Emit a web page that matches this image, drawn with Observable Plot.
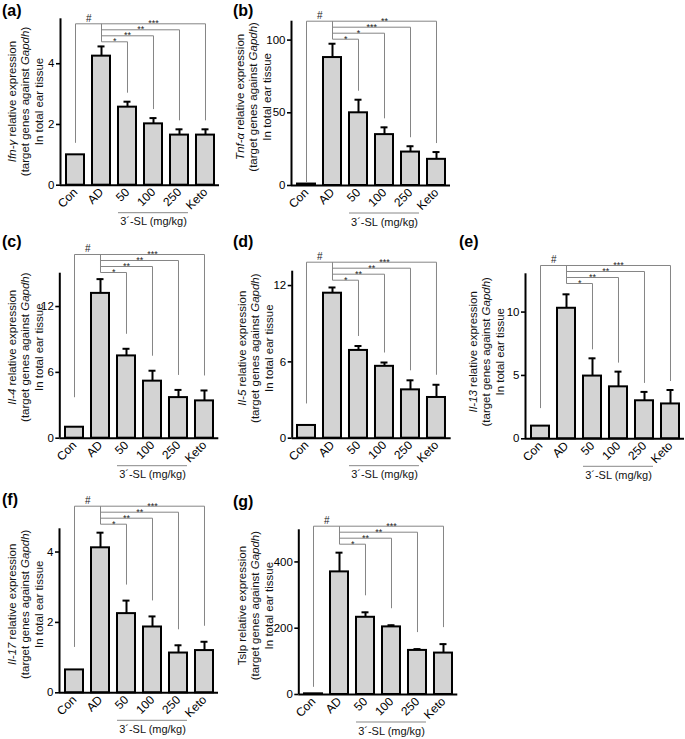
<!DOCTYPE html>
<html><head><meta charset="utf-8">
<script src="https://cdn.jsdelivr.net/npm/d3@7"></script>
<script src="https://cdn.jsdelivr.net/npm/@observablehq/plot@0.6"></script>
<style>
body{margin:0;background:#fff;font-family:"Liberation Sans",Arial,sans-serif;}
#fig{position:relative;width:685px;height:739px;overflow:hidden;background:#fff;}
.panel{position:absolute;}
.plabel{position:absolute;font-weight:bold;font-size:16px;line-height:1;font-family:"Liberation Sans",Arial,sans-serif;}
</style></head><body><div id="fig"></div>
<script>
// ---------- data ----------
const groups = ["Con", "AD", "50", "100", "250", "Keto"];
const doseGroups = ["50", "100", "250"];
const doseLabel = "3´-SL (mg/kg)";
const panelLetters = ["(a)", "(b)", "(c)", "(d)", "(e)", "(f)", "(g)"];
const geneNames = ["Ifn-γ", "Tnf-α", "Il-4", "Il-5", "Il-13", "Il-17", "Tslp"];
const refGene = "Gapdh";
const ifngMean = [1.0, 4.25, 2.57, 2.02, 1.65, 1.65];
const ifngSem  = [0, 0.32, 0.18, 0.19, 0.19, 0.19];
const ifngTicks = [0, 2, 4];
const ifngStars = ["*", "**", "**", "***"];
const tnfMean = [1.0, 88, 50, 35, 23, 18];
const tnfSem  = [0, 9.5, 9, 5, 4, 5];
const tnfTicks = [0, 50, 100];
const tnfStars = ["*", "*", "***", "**"];
const il4Mean = [1.0, 13.2, 7.5, 5.2, 3.7, 3.4];
const il4Sem  = [0, 1.3, 0.65, 0.95, 0.7, 0.95];
const il4Ticks = [0, 6, 12];
const il5Mean = [1.0, 11.4, 6.9, 5.65, 3.8, 3.2];
const il5Sem  = [0, 0.45, 0.35, 0.3, 0.75, 1.0];
const il5Ticks = [0, 6, 12];
const il13Mean = [1.0, 10.3, 4.95, 4.1, 3.0, 2.75];
const il13Sem  = [0, 1.1, 1.4, 1.2, 0.7, 1.1];
const il13Ticks = [0, 5, 10];
const il17Mean = [0.65, 4.12, 2.25, 1.87, 1.13, 1.2];
const il17Sem  = [0, 0.43, 0.37, 0.3, 0.22, 0.25];
const il17Ticks = [0, 2, 4];
const tslpMean = [2, 370, 233, 204, 133, 125];
const tslpSem  = [0, 58, 15, 5, 4, 27];
const tslpTicks = [0, 200, 400];
const stdStars = ["*", "**", "**", "***"];

// ---------- layout (pixels) ----------
const FONT = "'Liberation Sans', Arial, sans-serif";
const W = 159, PI = 0.32, PO = 0.16;
const STEP = W / (groups.length - PI + 2 * PO);
const S = 6; // spacing between bracket levels

const panels = [
  {k:0, mean: ifngMean, sem: ifngSem, ticks: ifngTicks, stars: ifngStars, ymax: 5.48,
   left: 0, top: 0, axisX: 60, topY: 18.3, zeroY: 184.7, T: 23.3, conGap: 12, tGap: 9, lx: 2, ly: 3, tc: 0, tx: -48},
  {k:1, mean: tnfMean, sem: tnfSem, ticks: tnfTicks, stars: tnfStars, ymax: 113,
   left: 230, top: 0, axisX: 291, topY: 20.7, zeroY: 185, T: 20.7, conGap: 2, tGap: 9, lx: 233, ly: 3, tc: -6, tx: -51},
  {k:2, mean: il4Mean, sem: il4Sem, ticks: il4Ticks, stars: stdStars, ymax: 15.04,
   left: 0, top: 240, axisX: 59.3, topY: 272.7, zeroY: 437.7, T: 254, conGap: 30, tGap: 15, lx: 2, ly: 234, tc: -8, tx: -47},
  {k:3, mean: il5Mean, sem: il5Sem, ticks: il5Ticks, stars: stdStars, ymax: 13.13,
   left: 230, top: 240, axisX: 291.7, topY: 270.7, zeroY: 437.7, T: 261.7, conGap: 22, tGap: 10, lx: 233, ly: 234, tc: -6, tx: -50},
  {k:4, mean: il13Mean, sem: il13Sem, ticks: il13Ticks, stars: stdStars, ymax: 13.02,
   left: 455, top: 240, axisX: 525, topY: 273.3, zeroY: 438.3, T: 265, conGap: 18, tGap: 9, lx: 459, ly: 234, tc: -4, tx: -52},
  {k:5, mean: il17Mean, sem: il17Sem, ticks: il17Ticks, stars: stdStars, ymax: 4.66,
   left: 0, top: 488, axisX: 59, topY: 528.3, zeroY: 692.3, T: 505.7, conGap: 23, tGap: 16, lx: 2, ly: 492, tc: -6, tx: -47},
  {k:6, mean: tslpMean, sem: tslpSem, ticks: tslpTicks, stars: stdStars, ymax: 497,
   left: 230, top: 488, axisX: 298.3, topY: 529.3, zeroY: 694, T: 525.7, conGap: 7, tGap: 17, lx: 233, ly: 494, tc: -6, tx: -56}
];

const fig = document.getElementById("fig");

function makePanel(p) {
  const rows = groups.map((g, i) => ({group: g, mean: p.mean[i], sem: p.sem[i]}));
  const errRows = rows.filter(d => d.sem > 0);
  const ml = p.axisX - p.left, mt = p.topY - p.top, mr = 10, mb = 55;
  const width = ml + W + mr;
  const height = p.zeroY - p.top + mb;
  const ppu = (p.zeroY - p.topY) / p.ymax;
  const val = py => (p.zeroY - py) / ppu;      // pixel row -> data value
  const up = (v, px) => v + px / ppu;          // data value raised by px
  const lv = j => val(p.T + (5 - j) * S);      // bracket level for group j
  const top = val(p.T);

  const segs = [];
  segs.push({x1: "Con", x2: "Con", y1: up(rows[0].mean + rows[0].sem, p.conGap), y2: top});
  segs.push({x1: "Con", x2: "Keto", y1: top, y2: top});
  segs.push({x1: "AD", x2: "AD", y1: top, y2: lv(2)});
  for (let j = 2; j <= 4; j++) segs.push({x1: "AD", x2: groups[j], y1: lv(j), y2: lv(j)});
  for (let j = 2; j <= 5; j++) segs.push({x1: groups[j], x2: groups[j], y1: lv(j), y2: up(rows[j].mean + rows[j].sem, p.tGap)});

  const starMarks = [];
  starMarks.push(Plot.text(["#"], {x: () => "Con", y: () => top, text: d => d, dx: STEP / 2, dy: -5.5, fontSize: 10, fill: "#222"}));
  for (let j = 2; j <= 5; j++) {
    const c = (1 + j) / 2;
    const half = c % 1 !== 0;
    starMarks.push(Plot.text([p.stars[j - 2]], {
      x: () => groups[Math.floor(c)], y: () => lv(j), text: d => d,
      dx: half ? STEP / 2 : 0, dy: -0.5, fontSize: 9, fill: "#222"
    }));
  }

  const svg = Plot.plot({
    width, height,
    marginLeft: ml, marginTop: mt, marginRight: mr, marginBottom: mb,
    style: {fontFamily: FONT, fontSize: "12px", background: "transparent", overflow: "visible", color: "#000"},
    x: {domain: groups, paddingInner: PI, paddingOuter: PO, tickSize: 0, tickRotate: -45, tickPadding: 5, label: null},
    y: {domain: [0, p.ymax], ticks: p.ticks, tickFormat: d => String(d), tickSize: 4, tickPadding: 2, label: null},
    marks: [
      Plot.link(segs, {x1: "x1", x2: "x2", y1: "y1", y2: "y2", stroke: "#858585", strokeWidth: 1}),
      ...starMarks,
      Plot.barY(rows, {x: "group", y: "mean", fill: "#d3d3d3", stroke: "#000", strokeWidth: 2}),
      Plot.ruleX(errRows, {x: "group", y1: "mean", y2: d => d.mean + d.sem, stroke: "#000", strokeWidth: 2}),
      Plot.tickY(errRows, {x: "group", y: d => d.mean + d.sem, stroke: "#000", strokeWidth: 2, inset: 5.5}),
      Plot.ruleY([0], {stroke: "#000", strokeWidth: 2}),
      Plot.ruleX([0], {x: null, y1: () => 0, y2: () => p.ymax, dx: -W / 2, stroke: "#000", strokeWidth: 2}),
      Plot.ruleY([0], {x1: () => doseGroups[0], x2: () => doseGroups[doseGroups.length - 1], dy: 27.5, stroke: "#888", strokeWidth: 1}),
      Plot.text([doseLabel], {x: () => doseGroups[1], y: () => 0, text: d => d, dy: 36.5, fontSize: 11, fill: "#111"})
    ]
  });

  const sel = d3.select(svg);
  sel.selectAll('[aria-label^="y-axis"] path, [aria-label^="y-axis"] line').attr("stroke-width", 1.6);
  sel.selectAll('[aria-label^="y-axis"] text').attr("font-size", 11.5);

  // Y-axis title (three lines, italic gene names)
  const cy = mt + (p.zeroY - p.topY) / 2 + p.tc;
  const titleLines = [
    [[geneNames[p.k], p.k !== 6], [" relative expression", false]],
    [["(target genes against ", false], [refGene, true], [")", false]],
    [["In total ear tissue", false]]
  ];
  const offs = [0, 13, 27];
  const tg = sel.append("g").attr("font-size", 11.5).attr("font-family", FONT).attr("text-anchor", "middle").attr("fill", "#111");
  titleLines.forEach((parts, li) => {
    const t = tg.append("text").attr("transform", `translate(${ml + p.tx + offs[li]},${cy}) rotate(-90)`).attr("dy", "0.35em");
    parts.forEach(([s, it]) => {
      const ts = t.append("tspan").text(s);
      if (it) ts.attr("font-style", "italic");
    });
  });

  svg.classList.add("panel");
  svg.style.left = p.left + "px";
  svg.style.top = p.top + "px";
  fig.appendChild(svg);

  const lab = document.createElement("div");
  lab.className = "plabel";
  lab.textContent = panelLetters[p.k];
  lab.style.left = p.lx + "px";
  lab.style.top = p.ly + "px";
  fig.appendChild(lab);
}

panels.forEach(makePanel);
</script>
</body></html>
